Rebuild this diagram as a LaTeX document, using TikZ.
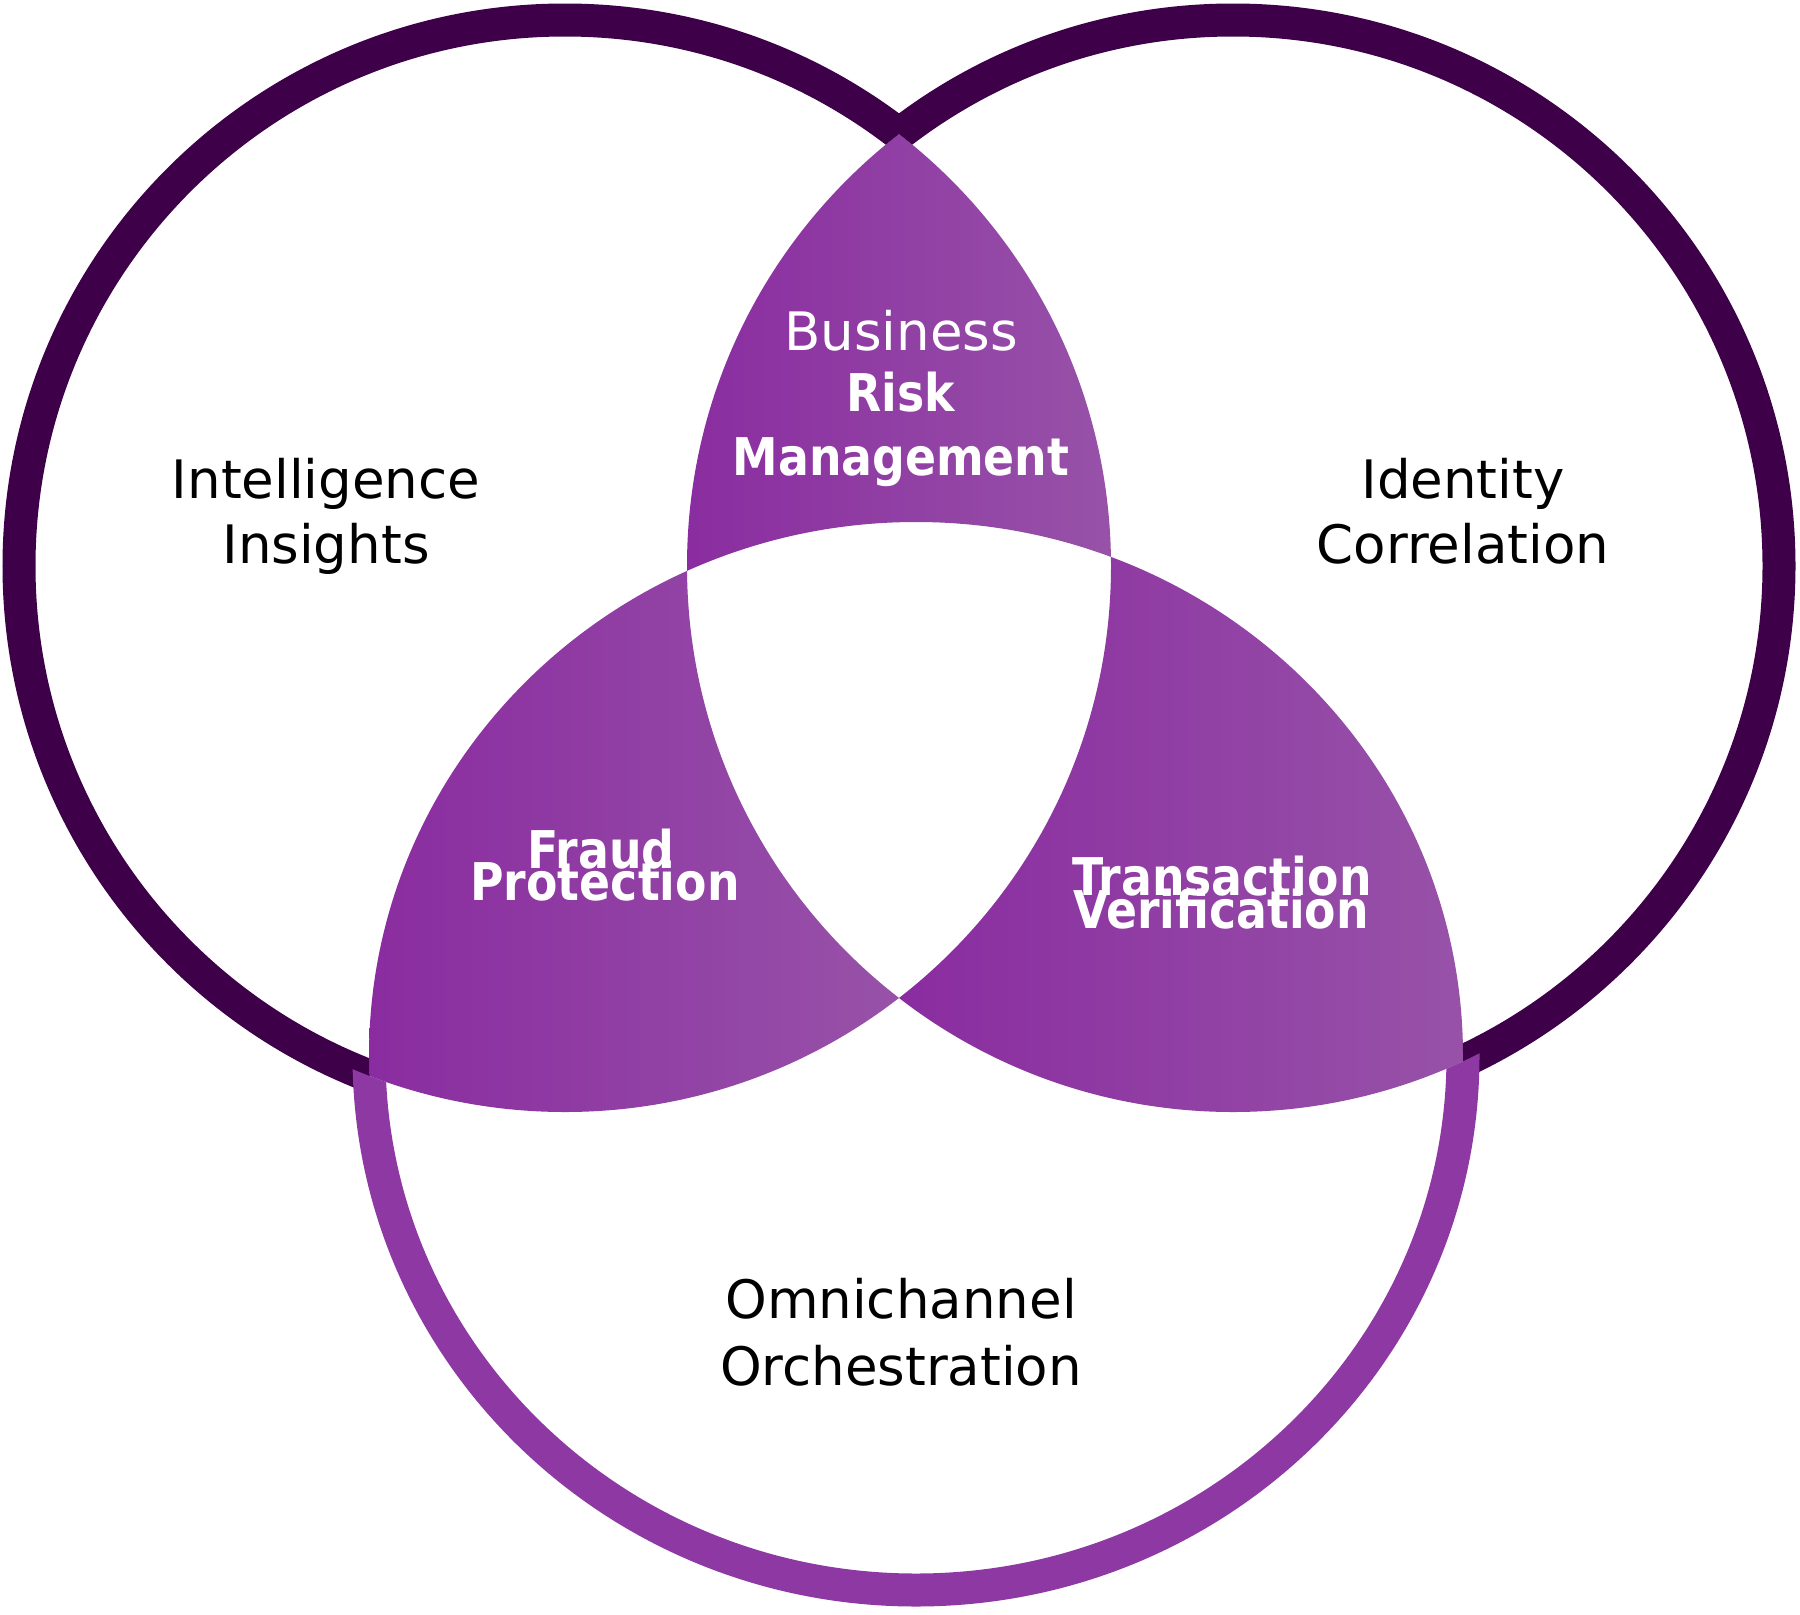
\documentclass[tikz,border=0pt]{standalone}
\usepackage{fontspec}
\setmainfont{DejaVu Sans}
\newfontfamily\lblbold[FakeStretch=0.88]{DejaVu Sans}
\usepackage{xcolor}
\definecolor{ringdark}{HTML}{3E0049}
\definecolor{ringlight}{HTML}{8E38A4}
\definecolor{lensleft}{RGB}{138,44,160}
\definecolor{lensright}{RGB}{151,82,168}

\begin{document}
\begin{tikzpicture}[x=1pt, y=-1pt,
  ring/.style={line width=33pt},
  lens/.style={left color=lensleft, right color=lensright},
  lbl/.style={font=\fontsize{53}{62}\selectfont, inner sep=0pt, anchor=base},
  lblhead/.style={lbl, text=white, font=\fontsize{52}{62}\lblbold\bfseries}]
  \useasboundingbox (0,0) rectangle (1800,1615);
  \fill[white] (0,0) rectangle (1800,1615);

  % Circle centres
  \coordinate (cL) at (565,566);
  \coordinate (cR) at (1233,566);
  \coordinate (cB) at (916,1056);

  % Pairwise overlaps
  \begin{scope}[even odd rule]
    \clip (cL) circle[radius=546];
    \clip (cR) circle[radius=546];
    \clip (0,0) rectangle (1800,1615) (cB) ellipse[x radius=547, y radius=534];
    \shade[lens] (683,0) rectangle (1111,1615);
  \end{scope}
  \begin{scope}[even odd rule]
    \clip (cL) circle[radius=546];
    \clip (cB) ellipse[x radius=547, y radius=534];
    \clip (0,0) rectangle (1800,1615) (cR) circle[radius=546];
    \shade[lens] (369,0) rectangle (899,1615);
  \end{scope}
  \begin{scope}[even odd rule]
    \clip (cR) circle[radius=546];
    \clip (cB) ellipse[x radius=547, y radius=534];
    \clip (0,0) rectangle (1800,1615) (cL) circle[radius=546];
    \shade[lens] (899,0) rectangle (1463,1615);
  \end{scope}

  % Outer rings
  \begin{scope}[even odd rule]
    \clip (0,0) rectangle (1800,1615) (cR) circle[radius=546];
    \clip (0,0) rectangle (1800,1615) (cB) ellipse[x radius=547, y radius=534];
    \draw[ring, ringdark] (cL) circle[radius=546];
  \end{scope}
  \begin{scope}[even odd rule]
    \clip (0,0) rectangle (1800,1615) (cL) circle[radius=546];
    \clip (0,0) rectangle (1800,1615) (cB) ellipse[x radius=547, y radius=534];
    \draw[ring, ringdark] (cR) circle[radius=546];
  \end{scope}
  \begin{scope}[even odd rule]
    \clip (0,0) rectangle (1800,1615) (cL) circle[radius=546];
    \clip (0,0) rectangle (1800,1615) (cR) circle[radius=546];
    \draw[ring, ringlight] (cB) ellipse[x radius=547, y radius=534];
  \end{scope}

  % Labels
  \node[lbl] (intel1) at (326,498) {Intelligence};
  \node[lbl] (intel2) at (326,563) {Insights};
  \node[lbl] (ident1) at (1463,498) {Identity};
  \node[lbl] (ident2) at (1463,563) {Correlation};
  \node[lbl] (omni1) at (901,1318) {Omnichannel};
  \node[lbl] (omni2) at (901,1385) {Orchestration};

  \node[lbl, text=white] (risk1) at (901,350) {Business};
  \node[lblhead] (risk2) at (901,411) {Risk};
  \node[lblhead] (risk3) at (901,475) {Management};
  \node[lblhead] (fraud1) at (601,868) {Fraud};
  \node[lblhead] (fraud2) at (605,900) {Protection};
  \node[lblhead] (trans1) at (1222,895) {Transaction};
  \node[lblhead] (trans2) at (1221,928) {Verification};
\end{tikzpicture}
\end{document}
